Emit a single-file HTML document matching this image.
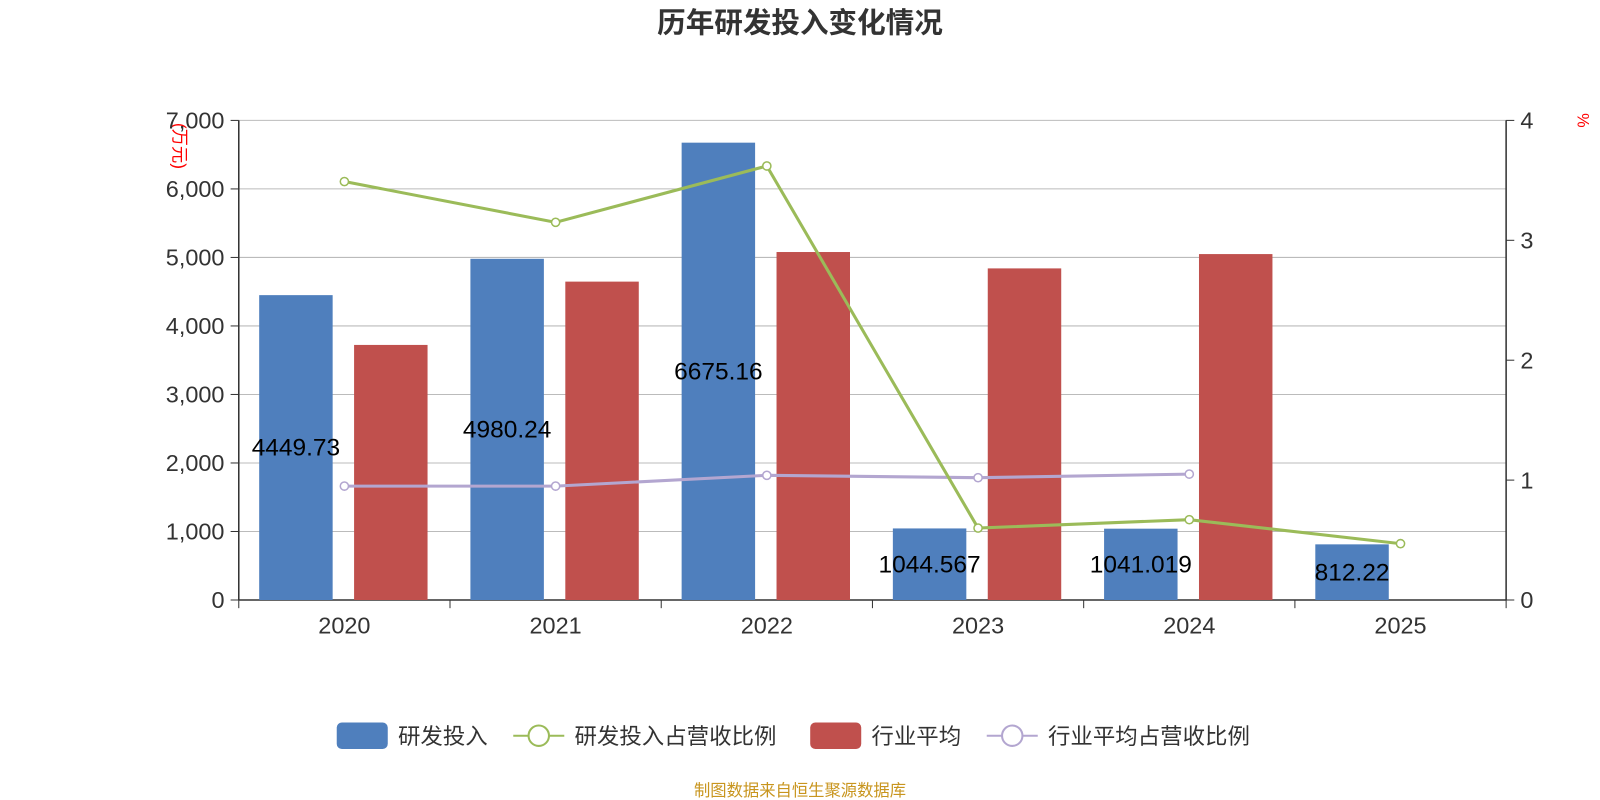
<!DOCTYPE html>
<html><head><meta charset="utf-8"><style>
body{margin:0;background:#fff;font-family:"Liberation Sans","Noto Sans CJK SC",sans-serif;}
svg{display:block}
svg text{font-family:"Liberation Sans","Noto Sans CJK SC",sans-serif;}
</style></head><body>
<svg id="c" width="1600" height="800" viewBox="0 0 1568 784" xmlns="http://www.w3.org/2000/svg">
<text x="784" y="32" text-anchor="middle" font-size="28" font-weight="bold" fill="#333">历年研发投入变化情况</text>
<text transform="translate(170,143) rotate(90)" text-anchor="middle" font-size="17" fill="#f00">(万元)</text>
<text transform="translate(1546,118) rotate(90)" text-anchor="middle" font-size="16" fill="#f00">%</text>
<g id="grid"></g><g id="bars"></g><g id="lines"></g><g id="axes"></g><g id="labels"></g>
<g>
<rect x="330" y="708" width="50" height="26" rx="5" fill="#4f7fbd"/>
<text x="390" y="729" font-size="22" fill="#333">研发投入</text>
<line x1="503" y1="721" x2="553" y2="721" stroke="#9bbb59" stroke-width="2"/><circle cx="528" cy="721" r="10" fill="#fff" stroke="#9bbb59" stroke-width="2"/>
<text x="563" y="729" font-size="22" fill="#333">研发投入占营收比例</text>
<rect x="794" y="708" width="50" height="26" rx="5" fill="#c0504d"/>
<text x="854" y="729" font-size="22" fill="#333">行业平均</text>
<line x1="967" y1="721" x2="1017" y2="721" stroke="#b3a6d0" stroke-width="2"/><circle cx="992" cy="721" r="10" fill="#fff" stroke="#b3a6d0" stroke-width="2"/>
<text x="1027" y="729" font-size="22" fill="#333">行业平均占营收比例</text>
</g>
<text x="784" y="780" text-anchor="middle" font-size="16" fill="#c8951e">制图数据来自恒生聚源数据库</text>
</svg>
<script>
const categories=["2020","2021","2022","2023","2024","2025"];
const rdValues=[4449.73,4980.24,6675.16,1044.567,1041.019,812.22];
const rdLabels=["4449.73","4980.24","6675.16","1044.567","1041.019","812.22"];
const industryAvg=[3723,4647,5079,4840,5049,null];
const rdRatio=[3.49,3.15,3.62,0.60,0.67,0.47];
const industryRatio=[0.95,0.95,1.04,1.02,1.05,null];
const leftTicks=[0,1000,2000,3000,4000,5000,6000,7000];
const rightTicks=[0,1,2,3,4];
const NS="http://www.w3.org/2000/svg";
const X0=234,X1=1476,Y0=588,Y1=118;
const bw=(X1-X0)/categories.length;
const yL=v=>Y0-(v/7000)*(Y0-Y1);
const yR=v=>Y0-(v/4)*(Y0-Y1);
const xc=i=>X0+bw*(i+0.5);
function mk(tag,attrs,parent,text){const e=document.createElementNS(NS,tag);for(const k in attrs)e.setAttribute(k,attrs[k]);if(text!=null)e.textContent=text;document.getElementById(parent).appendChild(e);return e;}
leftTicks.forEach(t=>{
 const g=mk("line",{x1:X0,x2:X1,y1:yL(t),y2:yL(t),stroke:t===0?"#333":"#bbb","stroke-width":t===0?1.5:1},"grid");
 
 
 mk("line",{x1:X0-8,x2:X0,y1:yL(t),y2:yL(t),stroke:"#333"},"axes");
 const l=mk("text",{x:X0-14,y:yL(t)+8,"text-anchor":"end","font-size":23,fill:"#333"},"axes",t.toLocaleString("en-US"));
 
 
});
rightTicks.forEach(t=>{
 mk("line",{x1:X1,x2:X1+8,y1:yR(t),y2:yR(t),stroke:"#333"},"axes");
 const l=mk("text",{x:X1+14,y:yR(t)+8,"font-size":23,fill:"#333"},"axes",t);
 
 
});
mk("line",{x1:X0,x2:X0,y1:Y1,y2:Y0,stroke:"#333","stroke-width":1.5},"axes");
mk("line",{x1:X1,x2:X1,y1:Y1,y2:Y0,stroke:"#333","stroke-width":1.5},"axes");
for(let i=0;i<=categories.length;i++) mk("line",{x1:X0+bw*i,x2:X0+bw*i,y1:Y0,y2:Y0+8,stroke:"#333"},"axes");
categories.forEach((c,i)=>{
 const l=mk("text",{x:xc(i),y:621,"text-anchor":"middle","font-size":23,fill:"#333"},"axes",c);
 
 
 const b=mk("rect",{x:xc(i)-83.5,y:yL(rdValues[i]),width:72,height:Y0-yL(rdValues[i]),fill:"#4f7fbd"},"bars");
 
 
 if(industryAvg[i]!=null){
  const r=mk("rect",{x:xc(i)+9.5,y:yL(industryAvg[i]),width:72,height:Y0-yL(industryAvg[i]),fill:"#c0504d"},"bars");
  
  
 }
 const t=mk("text",{x:xc(i)-47.5,y:(yL(rdValues[i])+Y0)/2+8,"text-anchor":"middle","font-size":24,fill:"#000"},"labels",rdLabels[i]);
 
 
});
function line(vals,color,name){
 const pts=[];vals.forEach((v,i)=>{if(v!=null)pts.push([xc(i),yR(v)]);});
 const p=mk("polyline",{points:pts.map(p=>p.join(",")).join(" "),fill:"none",stroke:color,"stroke-width":3},"lines");
 
 
 pts.forEach(q=>{const c=mk("circle",{cx:q[0],cy:q[1],r:4,fill:"#fff",stroke:color,"stroke-width":1.5},"lines");
  
  });
}
line(industryRatio,"#b3a6d0","industry-ratio");
line(rdRatio,"#9bbb59","rd-ratio");
</script>
</body></html>
